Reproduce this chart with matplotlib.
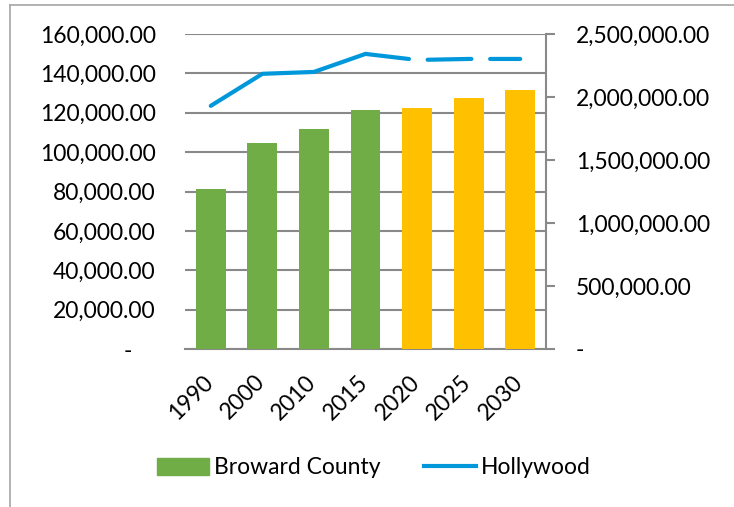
import matplotlib
matplotlib.use('Agg')
import matplotlib.pyplot as plt
import matplotlib.transforms as mtransforms
from matplotlib.lines import Line2D
from matplotlib.patches import Patch
from matplotlib.ticker import FuncFormatter, MultipleLocator

# データ
years = ['1990', '2000', '2010', '2015', '2020', '2025', '2030']
broward = [81500, 104800, 111900, 121500, 122500, 127600, 131600]
hollywood = [1930000, 2184000, 2199000, 2342000, 2294000, 2302000, 2302000]
n_actual = 4  # 1990-2015 は実績、以降は予測

green = '#70AD47'
yellow = '#FFC000'
blue = '#0098DA'
gray = '#898989'

plt.rcParams['font.family'] = ['Lato', 'DejaVu Sans']
fs = 16.5

fig = plt.figure(figsize=(7.34, 5.07), dpi=100)
ax = fig.add_axes([185 / 734, 1 - 349 / 507, (546 - 185) / 734, (349 - 34) / 507])
ax2 = ax.twinx()

x = list(range(len(years)))
colors = [green if i < n_actual else yellow for i in x]
ax.bar(x, broward, width=0.58, color=colors, zorder=3)

# 実線と破線
ax2.plot(x[:n_actual], hollywood[:n_actual], color=blue, lw=3,
         solid_capstyle='round', solid_joinstyle='round')
ax2.plot(x[n_actual - 1:], hollywood[n_actual - 1:], color=blue, lw=3,
         linestyle=(0, (10.5, 4.5)), dash_capstyle='round')

ax.set_xlim(-0.5, len(years) - 0.5)
ax.set_ylim(0, 160000)
ax2.set_ylim(0, 2500000)
ax.yaxis.set_major_locator(MultipleLocator(20000))
ax2.yaxis.set_major_locator(MultipleLocator(500000))


def fmt_left(v, pos):
    return '-    ' if v == 0 else f'{v:,.2f}'


def fmt_right(v, pos):
    return '-' if v == 0 else f'{v:,.2f}'


ax.yaxis.set_major_formatter(FuncFormatter(fmt_left))
ax2.yaxis.set_major_formatter(FuncFormatter(fmt_right))

ax.grid(axis='y', color=gray, lw=1.5, zorder=0)
ax.set_axisbelow(True)
for a in (ax, ax2):
    for s in ('top', 'left', 'right', 'bottom'):
        a.spines[s].set_visible(False)
ax.spines['bottom'].set_visible(True)
ax.spines['bottom'].set_color(gray)
ax.spines['bottom'].set_linewidth(1.5)
ax2.spines['right'].set_visible(True)
ax2.spines['right'].set_color(gray)
ax2.spines['right'].set_linewidth(1.5)

ax.tick_params(axis='y', length=0, pad=21, labelsize=fs)
ax2.tick_params(axis='y', length=6.5, width=1.5, color=gray, pad=15, labelsize=fs)
ax.set_xticks(x)
ax.set_xticklabels(years, rotation=45, ha='right', rotation_mode='anchor')
ax.tick_params(axis='x', length=0, pad=16, labelsize=fs)
shift = mtransforms.ScaledTranslation(-6 / 72, 0, fig.dpi_scale_trans)
for lab in ax.get_xticklabels():
    lab.set_transform(lab.get_transform() + shift)

handles = [Patch(color=green), Line2D([0], [0], color=blue, lw=3)]
fig.legend(handles, ['Broward County', 'Hollywood'], loc='center',
           bbox_to_anchor=(374 / 734, 1 - 468 / 507), ncol=2, frameon=False,
           fontsize=fs, handlelength=2.25, handletextpad=0.22, columnspacing=1.9)

# 外枠
fig.add_artist(Line2D([10 / 734, 10 / 734], [0, 1 - 5 / 507], transform=fig.transFigure,
                      color='#a6a6a6', lw=1.2))
fig.add_artist(Line2D([10 / 734, 1], [1 - 5 / 507, 1 - 5 / 507], transform=fig.transFigure,
                      color='#a6a6a6', lw=1.2))

fig.savefig('out.png', dpi=100)
